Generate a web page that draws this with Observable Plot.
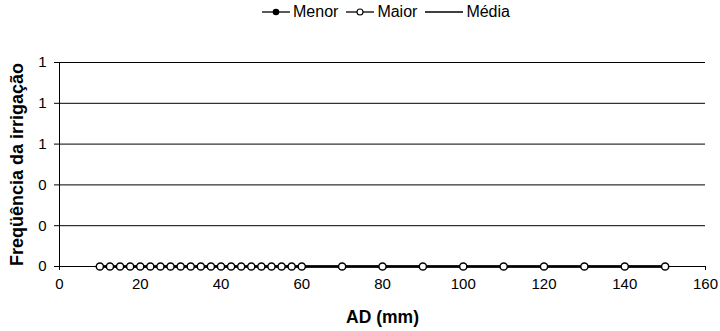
<!DOCTYPE html>
<html>
<head>
<meta charset="utf-8">
<script src="https://cdn.jsdelivr.net/npm/d3@7"></script>
<script src="https://cdn.jsdelivr.net/npm/@observablehq/plot@0.6"></script>
<style>
  body { margin: 0; background: #fff; font-family: "Liberation Sans", Arial, sans-serif; }
  #legend { height: 25px; position: relative; font-size: 16px; color: #000; }
  #legend .row { position: absolute; top: 3px; left: 0; width: 772px; display: flex; justify-content: center; align-items: center; }
  #legend .item { display: flex; align-items: center; margin: 0 4px; }
  #legend svg { display: block; }
  #chart svg { overflow: visible; }
</style>
</head>
<body>
<div id="legend"><div class="row"></div></div>
<div id="chart"></div>
<script>
const adValues = [10, 12.5, 15, 17.5, 20, 22.5, 25, 27.5, 30, 32.5, 35, 37.5, 40, 42.5, 45, 47.5, 50, 52.5, 55, 57.5, 60, 70, 80, 90, 100, 110, 120, 130, 140, 150];
const menor = [0,0,0,0,0,0,0,0,0,0,0,0,0,0,0,0,0,0,0,0,0,0,0,0,0,0,0,0,0,0];
const maior = [0,0,0,0,0,0,0,0,0,0,0,0,0,0,0,0,0,0,0,0,0,0,0,0,0,0,0,0,0,0];
const media = [0,0,0,0,0,0,0,0,0,0,0,0,0,0,0,0,0,0,0,0,0,0,0,0,0,0,0,0,0,0];
const yTicks = [0, 0.2, 0.4, 0.6, 0.8, 1];
const yTickLabels = ["0", "0", "0", "1", "1", "1"];
const xTicks = [0, 20, 40, 60, 80, 100, 120, 140, 160];
const seriesNames = ["Menor", "Maior", "Média"];

const rows = (vals) => adValues.map((x, i) => ({x, y: vals[i]}));
const menorData = rows(menor), maiorData = rows(maior), mediaData = rows(media);

// Legend
const row = document.querySelector("#legend .row");
const legendItems = [
  {name: seriesNames[0], marker: "filled", w: 28},
  {name: seriesNames[1], marker: "open", w: 28},
  {name: seriesNames[2], marker: "none", w: 38}
];
for (const it of legendItems) {
  const div = document.createElement("div");
  div.className = "item";
  const w = it.w;
  let svg = `<svg width="${w}" height="14"><line x1="0" x2="${w}" y1="7" y2="7" stroke="#000" stroke-width="1.3"/>`;
  if (it.marker === "filled") svg += `<circle cx="${w/2}" cy="7" r="3.3" fill="#000"/>`;
  if (it.marker === "open") svg += `<circle cx="${w/2}" cy="7" r="3" fill="#fff" stroke="#000" stroke-width="1.1"/>`;
  svg += `</svg>`;
  div.innerHTML = svg + `<span style="margin-left:3px">${it.name}</span>`;
  row.appendChild(div);
}

const chart = Plot.plot({
  width: 720,
  height: 306,
  marginLeft: 59,
  marginRight: 15,
  marginTop: 37,
  marginBottom: 65,
  style: {fontFamily: "'Liberation Sans', Arial, sans-serif", fontSize: "15px", color: "#000", background: "#fff", overflow: "visible"},
  x: {domain: [0, 160]},
  y: {domain: [0, 1]},
  marks: [
    Plot.ruleY(yTicks, {x1: 0, x2: 160, stroke: "#000", strokeWidth: 1}),
    Plot.ruleX([0], {y1: 0, y2: 1, stroke: "#000", strokeWidth: 1}),
    Plot.axisY({ticks: yTicks, tickFormat: (d) => yTickLabels[yTicks.indexOf(d)], tickSize: 5, tickPadding: 8, label: null, fontSize: 15}),
    Plot.axisX({ticks: xTicks, tickSize: 4, tickPadding: 8, label: null, fontSize: 15}),
    Plot.line(mediaData, {x: "x", y: "y", stroke: "#000", strokeWidth: 2}),
    Plot.line(menorData, {x: "x", y: "y", stroke: "#000", strokeWidth: 2}),
    Plot.dot(menorData, {x: "x", y: "y", r: 3.5, fill: "#000"}),
    Plot.line(maiorData, {x: "x", y: "y", stroke: "#000", strokeWidth: 2}),
    Plot.dot(maiorData, {x: "x", y: "y", r: 3.6, fill: "#fff", stroke: "#000", strokeWidth: 1.5}),
    Plot.text(["Freqüência da irrigação"], {frameAnchor: "left", textAnchor: "middle", rotate: -90, dx: -42, fontWeight: "bold", fontSize: 18}),
    Plot.text(["AD (mm)"], {frameAnchor: "bottom", dy: 56, fontWeight: "bold", fontSize: 17.5})
  ]
});
document.getElementById("chart").appendChild(chart);
</script>
</body>
</html>
